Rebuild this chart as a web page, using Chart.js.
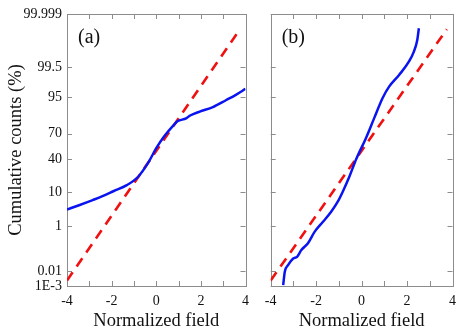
<!DOCTYPE html>
<html><head><meta charset="utf-8">
<script src="https://cdn.jsdelivr.net/npm/chart.js@4"></script>
<style>
html,body{margin:0;padding:0;background:#fff;}
#wrap{position:relative;width:463px;height:332px;overflow:hidden;}
#ca{position:absolute;left:0;top:0;}
#cb{position:absolute;left:256px;top:0;}
</style></head><body>
<div id="wrap">
<canvas id="ca" width="256" height="332"></canvas>
<canvas id="cb" width="207" height="332"></canvas>
</div>
<script>
// ---- data ----
const percentTicks  = [0.001, 0.01, 1, 10, 40, 70, 95, 99.5, 99.999];
const percentLabels = ['1E-3', '0.01', '1', '10', '40', '70', '95', '99.5', '99.999'];
const xTickLabels   = ['-4', '-2', '0', '2', '4'];

// panel (a): normalized field vs. normal quantile of cumulative count
const fieldA = [-4, -3.43, -2.85, -2.41, -1.90, -1.32, -0.81, -0.38, 0.0, 0.35, 0.79, 0.95, 1.34, 1.52, 1.95, 2.54, 3.12, 3.55, 4.0];
const quantA = [-1.81, -1.67, -1.52, -1.40, -1.24, -1.06, -0.80, -0.39, 0.08, 0.44, 0.80, 0.91, 1.00, 1.09, 1.21, 1.35, 1.56, 1.72, 1.91];

// panel (b)
const fieldB = [-3.45, -3.38, -3.23, -3.01, -2.84, -2.65, -2.36, -2.07, -1.70, -1.34, -1.05, -0.83, -0.54, -0.24, 0.19, 0.55, 0.92, 1.21, 1.65, 2.08, 2.30, 2.45, 2.52];
const quantB = [-4.14, -3.73, -3.52, -3.32, -3.27, -3.06, -2.85, -2.50, -2.19, -1.88, -1.57, -1.26, -0.80, -0.26, 0.39, 1.00, 1.62, 1.98, 2.34, 2.75, 3.06, 3.42, 3.78];

// normal reference line
const normalX = [-4, 3.75];
const normalY = [-4, 3.75];

const yMin = -4.17, yMax = 4.22;

// inverse normal CDF (Acklam)
function probit(p){
  const a=[-3.969683028665376e+01,2.209460984245205e+02,-2.759285104469687e+02,1.383577518672690e+02,-3.066479806614716e+01,2.506628277459239e+00];
  const b=[-5.447609879822406e+01,1.615858368580409e+02,-1.556989798598866e+02,6.680131188771972e+01,-1.328068155288572e+01];
  const c=[-7.784894002430293e-03,-3.223964580411365e-01,-2.400758277161838e+00,-2.549732539343734e+00,4.374664141464968e+00,2.938163982698783e+00];
  const d=[7.784695709041462e-03,3.224671290700398e-01,2.445134137142996e+00,3.754408661907416e+00];
  const pl=0.02425, ph=1-pl; let q,r;
  if(p<pl){q=Math.sqrt(-2*Math.log(p));return (((((c[0]*q+c[1])*q+c[2])*q+c[3])*q+c[4])*q+c[5])/((((d[0]*q+d[1])*q+d[2])*q+d[3])*q+1);}
  if(p<=ph){q=p-0.5;r=q*q;return (((((a[0]*r+a[1])*r+a[2])*r+a[3])*r+a[4])*r+a[5])*q/(((((b[0]*r+b[1])*r+b[2])*r+b[3])*r+b[4])*r+1);}
  q=Math.sqrt(-2*Math.log(1-p));return -(((((c[0]*q+c[1])*q+c[2])*q+c[3])*q+c[4])*q+c[5])/((((d[0]*q+d[1])*q+d[2])*q+d[3])*q+1);
}
const pts = (xs, ys) => xs.map((x,i)=>({x:x, y:ys[i]}));

const SERIF = '"Liberation Serif", "Times New Roman", serif';
const FRAME = '#8c8c8c';

function framePlugin(label){
  return {
    id:'frame'+label,
    beforeDatasetsDraw(chart){
      const ctx=chart.ctx, a=chart.chartArea, xs=chart.scales.x, ys=chart.scales.y;
      ctx.save();
      ctx.strokeStyle=FRAME; ctx.lineWidth=1;
      ctx.strokeRect(Math.round(a.left)+0.5, Math.round(a.top)+0.5, Math.round(a.right-a.left), Math.round(a.bottom-a.top));
      const L=5;
      ctx.beginPath();
      xs.ticks.forEach(t=>{
        const px=Math.round(xs.getPixelForValue(t.value))+0.5;
        ctx.moveTo(px,a.bottom); ctx.lineTo(px,a.bottom-L);
        ctx.moveTo(px,a.top); ctx.lineTo(px,a.top+L);
      });
      ys.ticks.forEach(t=>{
        const py=Math.round(ys.getPixelForValue(t.value))+0.5;
        ctx.moveTo(a.left,py); ctx.lineTo(a.left+L,py);
        ctx.moveTo(a.right,py); ctx.lineTo(a.right-L,py);
      });
      ctx.stroke();
      ctx.restore();
    },
    afterDraw(chart){
      const ctx=chart.ctx, a=chart.chartArea;
      ctx.save();
      ctx.fillStyle='#111';
      ctx.font='20px '+SERIF;
      ctx.textBaseline='middle';
      ctx.textAlign='left';
      ctx.fillText(label, a.left+11, a.top+24);
      ctx.restore();
    }
  };
}

function makeChart(id, label, fx, fy, showY, pad){
  return new Chart(document.getElementById(id), {
    type:'line',
    data:{datasets:[
      {data:pts(fx,fy), borderColor:'#0a14f0', borderWidth:2.5, pointRadius:0, cubicInterpolationMode:'monotone', fill:false},
      {data:pts(normalX,normalY), borderColor:'#f01010', borderWidth:2.6, borderDash:[10,7], pointRadius:0, fill:false}
    ]},
    options:{
      responsive:false, animation:false, devicePixelRatio:1,
      layout:{padding:pad},
      plugins:{legend:{display:false}, tooltip:{enabled:false}},
      scales:{
        x:{type:'linear', min:-4, max:4,
           grid:{display:false, drawTicks:false}, border:{display:false},
           ticks:{stepSize:1, autoSkip:false, maxRotation:0, padding:7, color:'#111',
                  font:{family:SERIF, size:14},
                  callback:(v)=> (v%2===0 ? xTickLabels[(v+4)/2] : '')},
           title:{display:true, text:'Normalized field', color:'#111', font:{family:SERIF, size:18.5}, padding:{top:2,bottom:0}},
           afterFit:(s)=>{ s.height=46; }
        },
        y:{type:'linear', min:yMin, max:yMax,
           grid:{display:false, drawTicks:false}, border:{display:false},
           afterBuildTicks:(s)=>{ s.ticks = percentTicks.map(p=>({value: Math.min(yMax, Math.max(yMin, probit(p/100)))})); },
           ticks:{display:showY, autoSkip:false, padding:5, color:'#111', font:{family:SERIF, size:14},
                  callback:(v,i)=>percentLabels[i]},
           title:{display:showY, text:'Cumulative counts (%)', color:'#111', font:{family:SERIF, size:18.5}, padding:{top:5,bottom:0}},
           afterFit:(s)=>{ s.width = showY ? 67 : 0; }
        }
      }
    },
    plugins:[framePlugin(label)]
  });
}

makeChart('ca', '(a)', fieldA, quantA, true,  {top:14, left:0, right:6, bottom:0});
makeChart('cb', '(b)', fieldB, quantB, false, {top:14, left:14.7, right:9.7, bottom:0});
</script>
</body></html>
